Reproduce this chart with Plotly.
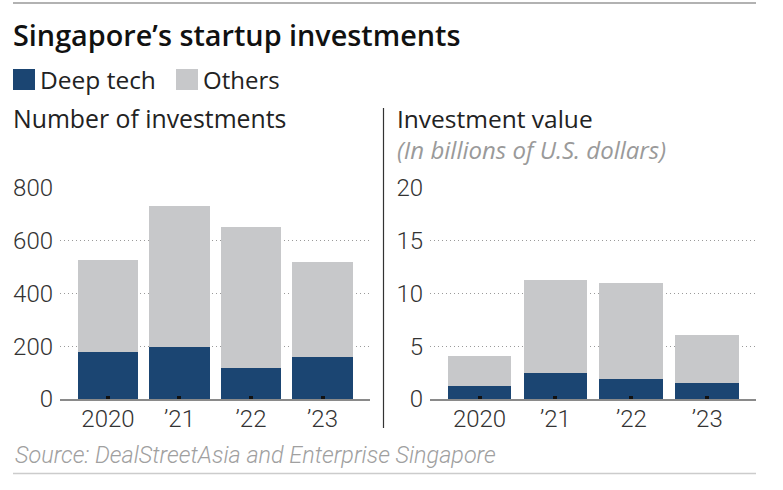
import plotly.graph_objects as go

W, H = 783, 490

years = ["2020", "\u201921", "\u201922", "\u201923"]
count_deep = [177, 197, 119, 158]
count_total = [527, 729, 651, 520]
count_others = [t - d for t, d in zip(count_total, count_deep)]
value_deep = [1.2, 2.5, 1.9, 1.5]
value_total = [4.1, 11.3, 11.0, 6.1]
value_others = [round(t - d, 2) for t, d in zip(value_total, value_deep)]

count_ticks = [0, 200, 400, 600, 800]
value_ticks = [0, 5, 10, 15, 20]

NAVY = "#1b4572"
GREY = "#c7c8ca"
TXT = "#222222"
TICKTXT = "#333333"


def px(x):
    return x / W


def py(y):
    return 1 - y / H


fig = go.Figure()
fig.add_trace(go.Bar(x=years, y=count_deep, marker_color=NAVY, name="Deep tech",
                     xaxis="x", yaxis="y", showlegend=False, marker_line_width=0))
fig.add_trace(go.Bar(x=years, y=count_others, marker_color=GREY, name="Others",
                     xaxis="x", yaxis="y", showlegend=False, marker_line_width=0))
fig.add_trace(go.Bar(x=years, y=value_deep, marker_color=NAVY, name="Deep tech",
                     xaxis="x2", yaxis="y2", showlegend=False, marker_line_width=0))
fig.add_trace(go.Bar(x=years, y=value_others, marker_color=GREY, name="Others",
                     xaxis="x2", yaxis="y2", showlegend=False, marker_line_width=0))

ydom = [py(399), py(187.7)]
tickfont = dict(family="Roboto", size=24, weight=300, color=TICKTXT)

xcommon = dict(type="category", showgrid=False, showline=True, linecolor="#8a8a8a",
               linewidth=2, ticks="inside", ticklen=3, tickwidth=4, tickcolor="#111",
               tickfont=tickfont, ticklabelstandoff=-3, fixedrange=True, automargin=False)
ycommon = dict(showgrid=True, gridcolor="#9a9a9a", griddash="1px,3px", gridwidth=1,
               showline=False, zeroline=False, ticks="", tickfont=tickfont,
               ticklabelstandoff=6, fixedrange=True, automargin=False)

fig.update_layout(
    template="none",
    width=W, height=H, autosize=False,
    margin=dict(l=0, r=0, t=0, b=0, pad=0),
    paper_bgcolor="white", plot_bgcolor="white",
    barmode="stack", bargap=0.16, showlegend=False,
    font=dict(family="Open Sans", color=TXT),
    xaxis=dict(domain=[px(60), px(370)], anchor="y", range=[-0.671, 3.664], **xcommon),
    yaxis=dict(domain=ydom, anchor="x", range=[0, 800], tickvals=count_ticks, **ycommon),
    xaxis2=dict(domain=[px(430), px(756)], anchor="y2", range=[-0.652, 3.642], **xcommon),
    yaxis2=dict(domain=ydom, anchor="x2", range=[0, 20], tickvals=value_ticks, **ycommon),
)

shapes = [
    dict(type="line", xref="paper", yref="paper", x0=px(13), x1=px(756), y0=py(3), y1=py(3),
         line=dict(color="#999999", width=1.5)),
    dict(type="line", xref="paper", yref="paper", x0=px(13), x1=px(756), y0=py(473.5), y1=py(473.5),
         line=dict(color="#cccccc", width=1.5)),
    dict(type="line", xref="paper", yref="paper", x0=px(383.5), x1=px(383.5), y0=py(108), y1=py(428),
         line=dict(color="#333333", width=1.2)),
    dict(type="rect", xref="paper", yref="paper", x0=px(13), x1=px(35), y0=py(90), y1=py(69),
         fillcolor=NAVY, line_width=0),
    dict(type="rect", xref="paper", yref="paper", x0=px(176), x1=px(198), y0=py(90), y1=py(69),
         fillcolor=GREY, line_width=0),
]

annotations = [
    dict(text="Singapore\u2019s startup investments", x=px(11), y=py(35),
         font=dict(family="Open Sans", size=28.8, weight=600, color="#111")),
    dict(text="Deep tech", x=px(38), y=py(80), font=dict(family="Open Sans", size=24.5, color=TXT)),
    dict(text="Others", x=px(201), y=py(80), font=dict(family="Open Sans", size=24, color=TXT)),
    dict(text="Number of investments", x=px(11), y=py(118),
         font=dict(family="Open Sans", size=24.8, color=TXT)),
    dict(text="Investment value", x=px(395), y=py(118),
         font=dict(family="Open Sans", size=24.5, color=TXT)),
    dict(text="<i>(In billions of U.S. dollars)</i>", x=px(395), y=py(149),
         font=dict(family="Open Sans", size=24, color="#9a9a9a")),
    dict(text="<i>Source: DealStreetAsia and Enterprise Singapore</i>", x=px(13), y=py(455),
         font=dict(family="Roboto", size=23.4, weight=300, color="#a0a0a0")),
]
for a in annotations:
    a.update(xref="paper", yref="paper", xanchor="left", yanchor="middle", showarrow=False)

fig.update_layout(shapes=shapes, annotations=annotations)
fig.write_html("out.html")
